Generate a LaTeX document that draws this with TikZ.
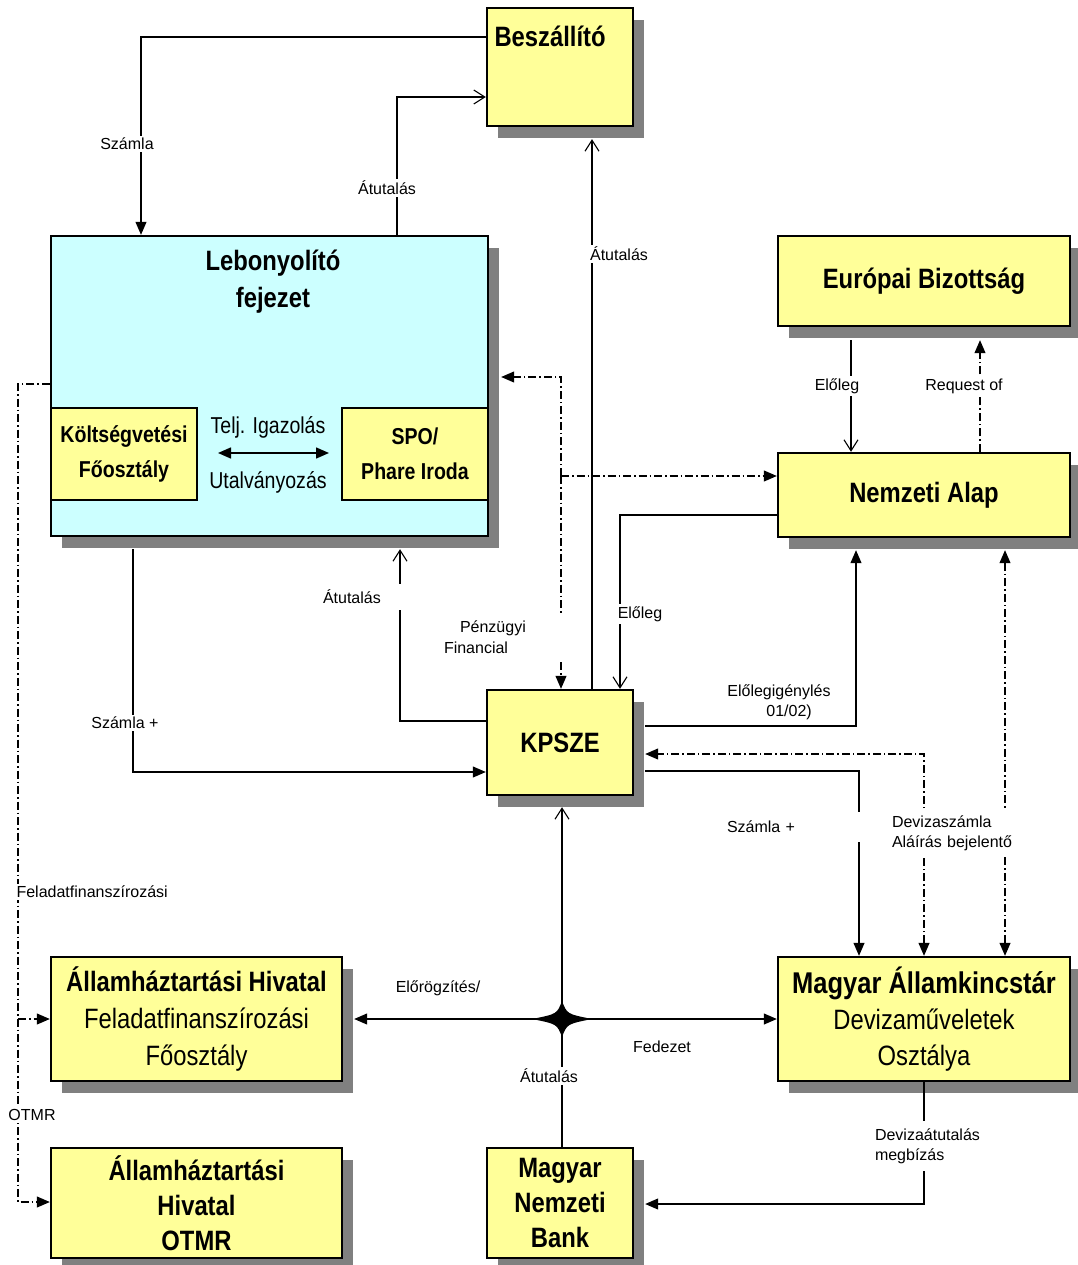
\documentclass[tikz,border=0pt]{standalone}
\usepackage{fontspec}
\setmainfont{Liberation Sans}
\newfontfamily\narrowf[FakeStretch=0.85]{Liberation Sans}
\usetikzlibrary{arrows.meta,shadows,calc}
\definecolor{boxyellow}{HTML}{FFFF99}
\definecolor{boxcyan}{HTML}{CCFFFF}
\definecolor{shadowgray}{HTML}{808080}
\tikzset{
  TriF/.tip={Triangle[length=13pt,width=11pt]},
  BarbO/.tip={Straight Barb[length=11pt,width=14pt,line width=1.1pt]},
  box/.style={draw, line width=2.4pt, fill=boxyellow, inner sep=0pt, align=center,
    font=\narrowf\bfseries\fontsize{28}{36}\selectfont},
  shad/.style={drop shadow={shadow xshift=11pt, shadow yshift=-12pt, fill=shadowgray, opacity=1}},
  conn/.style={line width=1.1pt},
  fil/.style={conn, -TriF},
  opn/.style={conn, -BarbO},
  both/.style={conn, TriF-TriF},
  dd/.style={dash pattern=on 8pt off 3pt on 1.5pt off 3pt},
  lbl/.style={fill=white, inner sep=2pt, font=\fontsize{16}{20}\selectfont},
  lbln/.style={inner sep=2pt, font=\fontsize{16}{20}\selectfont},
}
\begin{document}
\begin{tikzpicture}[x=1pt,y=-1pt]
\useasboundingbox (0,0) rectangle (1077,1265);
\fill[white] (0,0) rectangle (1077,1265);

% ---------- boxes ----------
\node[box, shad, minimum width=146pt, minimum height=118pt] (besz) at (560,67) {};
\node[anchor=base west, font=\narrowf\bfseries\fontsize{28}{30}\selectfont] (besztxt) at (491,47) {Beszállító};

\node[box, shad, fill=boxcyan, minimum width=437pt, minimum height=300pt] (leb) at (269.5,386) {};
\node[font=\narrowf\bfseries\fontsize{28}{37}\selectfont, align=center] (lebtxt) at (273,282) {Lebonyolító\\fejezet};
\node[box, line width=2pt, minimum width=146pt, minimum height=92pt,
  font=\narrowf\bfseries\fontsize{23}{35}\selectfont] (kolt) at (124,454) {Költségvetési\\Főosztály};
\node[box, line width=2pt, minimum width=146pt, minimum height=92pt,
  font=\narrowf\bfseries\fontsize{23}{35}\selectfont] (spo) at (415,454) {SPO/\\Phare Iroda};
\node[font=\narrowf\fontsize{23}{28}\selectfont] (telj) at (268,427) {Telj. Igazolás};
\node[font=\narrowf\fontsize{23}{28}\selectfont] (utal) at (268,482) {Utalványozás};
\draw[line width=1.5pt, TriF-TriF, shorten <=20pt, shorten >=12pt] (kolt.east |- 0,453) -- (spo.west |- 0,453);

\node[box, shad, minimum width=292pt, minimum height=90pt] (eb) at (924,281) {Európai Bizottság};
\node[box, shad, minimum width=292pt, minimum height=84pt] (na) at (924,495) {Nemzeti Alap};
\node[box, shad, minimum width=146pt, minimum height=105pt] (kpsze) at (560,742.5) {KPSZE};
\node[box, shad, minimum width=291pt, minimum height=124pt,
  font=\narrowf\fontsize{28}{37}\selectfont] (ahff) at (196.5,1019) {\textbf{Államháztartási Hivatal}\\Feladatfinanszírozási\\Főosztály};
\node[box, shad, minimum width=291pt, minimum height=110pt,
  font=\narrowf\bfseries\fontsize{28}{35}\selectfont] (otmr) at (196.5,1203) {Államháztartási\\Hivatal\\OTMR};
\node[box, shad, minimum width=146pt, minimum height=110pt,
  font=\narrowf\bfseries\fontsize{28}{35}\selectfont] (mnb) at (560,1203) {Magyar\\Nemzeti\\Bank};
\node[box, shad, minimum width=292pt, minimum height=124pt,
  font=\narrowf\fontsize{28}{36}\selectfont] (mak) at (924,1019) {{\bfseries\fontsize{30}{36}\selectfont Magyar Államkincstár}\\Devizaműveletek\\Osztálya};

% ---------- shadow edge coordinates ----------
\coordinate (lebS) at ([yshift=-12pt]leb.south);
\coordinate (lebE) at ([xshift=12pt]leb.east);
\coordinate (beszS) at ([yshift=-12pt]besz.south);
\coordinate (ebS) at ([yshift=-13pt]eb.south);
\coordinate (naS) at ([yshift=-12pt]na.south);
\coordinate (kpS) at ([yshift=-11pt]kpsze.south);
\coordinate (kpE) at ([xshift=11pt]kpsze.east);
\coordinate (ahffE) at ([xshift=11pt]ahff.east);
\coordinate (mnbE) at ([xshift=11pt]mnb.east);

% ---------- connectors ----------
\draw[fil] (besz.west |- 0,37) -| (leb.north -| 141,0)
  node[lbl] at (127,144) {Számla};
\draw[opn] (leb.north -| 397,0) |- (besz.west |- 0,97)
  node[lbl] at (387,188) {Átutalás};
\draw[opn] (kpsze.north -| 592,0) -- (beszS -| 592,0)
  node[lbl] at (619,254) {Átutalás};
\draw[opn] (na.west |- 0,515) -| (kpsze.north -| 620,0)
  node[lbl] at (640,614) {Előleg};
\draw[fil] (kpE |- 0,726) -| (naS -| 856,0)
  node[lbln, align=left] at (779,702) {Előlegigénylés\\\hspace*{39pt}01/02)};
\draw[opn] (ebS -| 851,0) -- (na.north -| 851,0)
  node[lbl] at (837,386) {Előleg};
\draw[fil, dd] (na.north -| 980,0) -- (ebS -| 980,0)
  node[lbl] at (964,386) {Request of};

\coordinate (fj) at (561,476);
\draw[fil, dd] (fj) |- (lebE |- 0,377);
\draw[fil, dd] (fj) -- (na.west |- fj);
\draw[fil, dd] (fj) -- (kpsze.north -| fj)
  node[lbl, text width=118pt, align=left, inner ysep=6pt, font=\fontsize{16}{21}\selectfont] at (503,637) {\hspace*{16pt}Pénzügyi\\Financial};

\draw[opn] (kpsze.west |- 0,721) -| (lebS -| 400,0)
  node[lbl, text width=78pt, align=left, inner ysep=6pt] at (362,597) {Átutalás};
\draw[fil] (lebS -| 133,0) |- (kpsze.west |- 0,772)
  node[lbl] at (125,723) {Számla +};
\draw[fil] (kpE |- 0,771) -| (mak.north -| 859,0)
  node[lbl, text width=138pt, align=left, inner ysep=9pt] at (796,827) {Számla +};
\draw[both, dd] (mak.north -| 924,0) |- (kpE |- 0,754);
\draw[both, dd] (naS -| 1005,0) -- (mak.north -| 1005,0)
  node[lbl, text width=122pt, align=left, inner ysep=6pt] at (953,833) {Devizaszámla\\Aláírás bejelentő};

\coordinate (fbus) at (18,1019);
\draw[fil, dd] (leb.west |- 0,384) -- (18,384) |- (otmr.west |- 0,1202)
  node[lbl, anchor=west] at (14,892) {Feladatfinanszírozási}
  node[lbl] at (32,1115) {OTMR};
\draw[fil, dd] (fbus) -- (ahff.west |- fbus);

% ---------- hub star ----------
\coordinate (hub) at (562,1019);
\fill (532,1019) .. controls (557,1014) .. (562,1001) .. controls (567,1014) .. (592,1019)
  .. controls (567,1024) .. (562,1037) .. controls (557,1024) .. (532,1019) -- cycle;
\draw[opn] (hub) -- (kpS -| hub);
\draw[fil] (hub) -- (ahffE |- hub)
  node[lbln] at (438,988) {Előrögzítés/};
\draw[fil] (hub) -- (mak.west |- hub)
  node[lbln] at (662,1047) {Fedezet};
\draw[conn] (mnb.north -| hub) -- (hub)
  node[lbl] at (549,1076) {Átutalás};

\draw[fil] (mak.south -| 924,0) |- (mnbE |- 0,1204)
  node[lbl, text width=108pt, align=left, inner ysep=7pt] at (929,1146) {Devizaátutalás\\megbízás};
\end{tikzpicture}
\end{document}
